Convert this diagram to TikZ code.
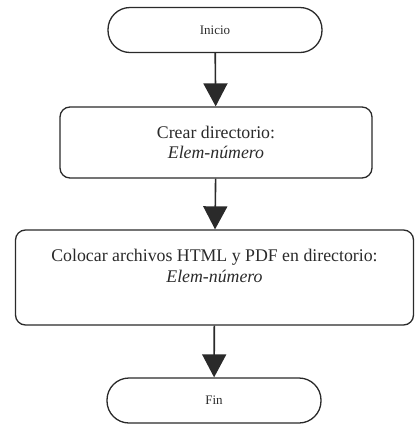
\documentclass[tikz,border=0pt]{standalone}
\usepackage{fontspec}
\setmainfont{Liberation Serif}
\usetikzlibrary{arrows.meta}
\definecolor{ink}{HTML}{2A2A2A}
\begin{document}
\begin{tikzpicture}[x=1pt,y=1pt,
  term/.style={draw=ink, line width=1.3pt, rounded corners=22pt, minimum width=214pt, minimum height=45pt, inner sep=0pt, font=\fontsize{13}{15}\selectfont, text=ink},
  proc/.style={draw=ink, line width=1.3pt, rounded corners=10pt, inner sep=0pt, align=center, font=\fontsize{17.8}{20.5}\selectfont, text=ink},
  flow/.style={draw=ink, line width=1.6pt, -{Triangle[width=24pt,length=23pt]}}]
\useasboundingbox (0,0) rectangle (415,-424);
\node[term] (inicio) at (215,-30) {Inicio};
\node[proc, minimum width=312pt, minimum height=71pt] (crear) at (216,-142.5) {Crear directorio:\\ \textit{Elem-número}};
\node[proc, minimum width=398pt, minimum height=95pt] (colocar) at (214.5,-277.5) {Colocar archivos HTML y PDF en directorio:\\ \textit{Elem-número}\\[3pt] ~};
\node[term] (fin) at (214,-400.5) {Fin};
\draw[flow] (inicio) -- (crear);
\draw[flow] (crear) -- (colocar);
\draw[flow] (colocar) -- (fin);
\end{tikzpicture}
\end{document}
